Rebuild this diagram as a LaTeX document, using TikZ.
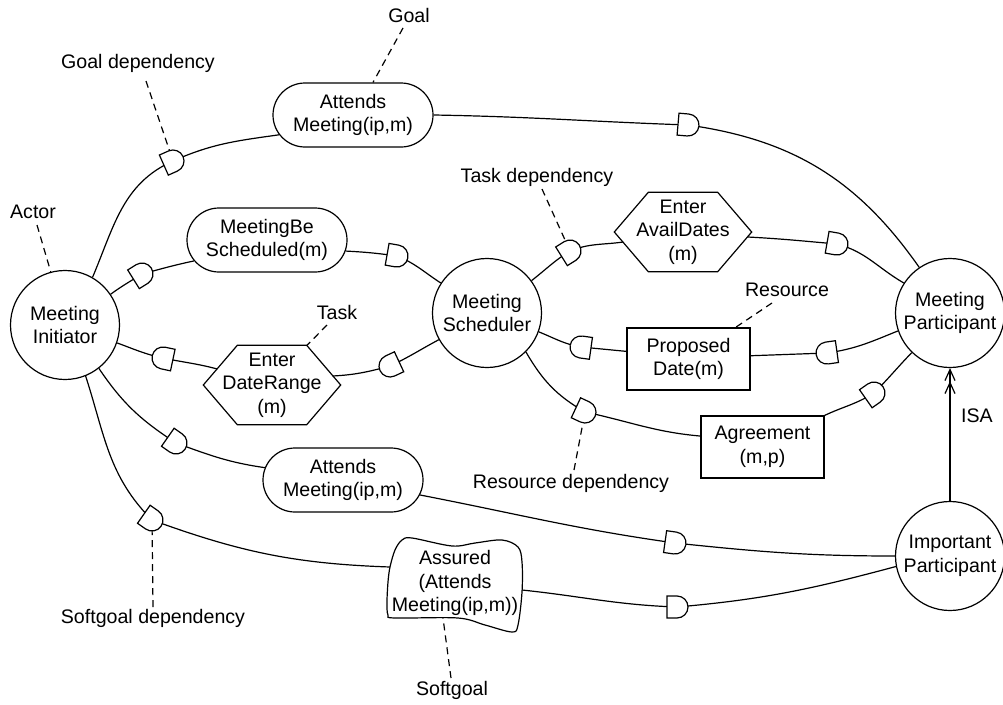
\documentclass[tikz,border=0pt]{standalone}
\usepackage{fontspec}
\setmainfont{Liberation Sans}
\usetikzlibrary{shapes.misc,arrows.meta}

% hexagonal outline for task nodes, built on the node's bounding rectangle
\newcommand\hexborder[1]{%
  \draw[link] (#1.west) -- ([xshift=34pt]#1.north west) -- ([xshift=-34pt]#1.north east)
    -- (#1.east) -- ([xshift=-34pt]#1.south east) -- ([xshift=34pt]#1.south west) -- cycle;}

\begin{document}
\begin{tikzpicture}[x=1pt,y=1pt,
  every node/.style={font=\fontsize{19.6}{23.5}\selectfont, align=center, inner sep=0pt},
  link/.style={line width=1.2pt},
  note/.style={line width=1.2pt, dash pattern=on 7pt off 5pt},
  actor/.style={circle, draw, line width=1.2pt, minimum size=109pt},
  goal/.style={rounded rectangle, draw, line width=1.2pt, minimum width=160pt, minimum height=64pt},
  taskbox/.style={rectangle, minimum width=137pt, minimum height=79pt},
  resource/.style={rectangle, draw, line width=1.2pt, minimum width=123pt, minimum height=62pt},
  dmark/.pic={\draw[line width=1.2pt, fill=white] (-10,-11) -- (0,-11)
      arc[start angle=-90, end angle=90, radius=11pt] -- (-10,11) -- cycle;},
]
\useasboundingbox (0,0) rectangle (1003,-704);

% actors
\node[actor] (mi) at (65,-325) {Meeting\\Initiator};
\node[actor] (ms) at (487,-313) {Meeting\\Scheduler};
\node[actor] (mp) at (950,-313) {Meeting\\Participant};
\node[actor] (ip) at (950,-556) {Important\\Participant};

% goals
\node[goal] (g1) at (353,-115) {Attends\\Meeting(ip,m)};
\node[goal] (g2) at (267,-240) {MeetingBe\\Scheduled(m)};
\node[goal] (g3) at (343,-480) {Attends\\Meeting(ip,m)};

% tasks
\node[taskbox] (dr) at (272,-385) {Enter\\DateRange\\(m)};
\node[taskbox] (ad) at (683,-232) {Enter\\AvailDates\\(m)};
\hexborder{dr}
\hexborder{ad}

% resources
\node[resource] (pd) at (688.5,-359) {Proposed\\Date(m)};
\node[resource] (ag) at (762.5,-447) {Agreement\\(m,p)};

% softgoal
\node (sg) at (455,-583) {Assured\\(Attends\\Meeting(ip,m))};
\draw[link, shift={(sg.center)}] plot[smooth cycle, tension=0.55] coordinates {
  (-65,16) (-60,33) (-53,43) (-43,45) (-3,37) (20,40) (47,43) (63,36) (67,21)
  (67,-9) (63,-42) (57,-49) (30,-42) (3,-35) (-60,-35) (-67,-32) (-68,-19) (-67,1)};
\coordinate (sgw) at ([shift={(-65,16)}]sg.center);
\coordinate (sge) at ([shift={(67,-7)}]sg.center);

% annotation labels
\node (lgoal) at (409,-15) {Goal};
\node (lgd) at (138,-63) {Goal dependency};
\node (lact) at (33,-212) {Actor};
\node (ltd) at (537,-177) {Task dependency};
\node (ltask) at (337,-312) {Task};
\node (lres) at (787,-290) {Resource};
\node (lisa) at (977,-416) {ISA};
\node (lrd) at (571,-483) {Resource dependency};
\node (lsd) at (153,-618) {Softgoal dependency};
\node (lsg) at (452,-690) {Softgoal};

% dependency markers positions
\coordinate (d1) at (173,-161);
\coordinate (d2) at (688,-125);
\coordinate (d3) at (142,-274);
\coordinate (d4) at (397,-256);
\coordinate (d5) at (390,-366);
\coordinate (d6) at (163,-358);
\coordinate (d7) at (570,-251);
\coordinate (d8) at (837,-244);
\coordinate (d9) at (827,-353);
\coordinate (d10) at (581,-347);
\coordinate (d11) at (585,-412);
\coordinate (d12) at (874,-393);
\coordinate (d13) at (176,-443);
\coordinate (d14) at (675,-543);
\coordinate (d15) at (152,-520);
\coordinate (d16) at (677,-607);

% annotation leaders
\draw[note] ([shift={(-6,-13)}]lgoal.center) -- ([xshift=20pt]g1.north);
\draw[note] ([shift={(8,-18)}]lgd.center) -- (d1);
\draw[note] ([shift={(4,-13)}]lact.center) -- (mi.105);
\draw[note] ([shift={(5,-12)}]ltd.center) -- (d7);
\draw[note] ([shift={(-10,-13)}]ltask.center) -- ([xshift=35pt]dr.north);
\draw[note] ([shift={(-15,-13)}]lres.center) -- ([xshift=47pt]pd.north);
\draw[note] ([shift={(3,13)}]lrd.center) -- (d11);
\draw[note] ([shift={(0,11)}]lsd.center) -- (d15);
\draw[note] ([shift={(-1,12)}]lsg.center) -- ([shift={(-12,-35)}]sg.center);

% dependency links
\draw[link] (mi.60) to[out=67,in=204] (d1) to[out=24,in=188] (g1.195);
\draw[link] (g1.east) to[out=-1,in=178] (d2) to[out=-8,in=125] (mp.124);
\draw[link] (mi.34) to[out=36,in=212] (d3) to[out=15,in=192] (g2.196);
\draw[link] (g2.-8) to[out=-3,in=172] (d4) to[out=-22,in=147] (ms.147);
\draw[link] (ms.209) to[out=208,in=25] (d5) to[out=195,in=3] ([shift={(-8,9)}]dr.east);
\draw[link] ([shift={(14,16)}]dr.west) to[out=165,in=-12] (d6) to[out=168,in=-20] (mi.-19);
\draw[link] (ms.36) to[out=38,in=212] (d7) to[out=22,in=188] ([shift={(9,-10)}]ad.west);
\draw[link] ([shift={(-4,-5)}]ad.east) to[out=-3,in=175] (d8) to[out=-15,in=150] (mp.147);
\draw[link] (mp.199) to[out=202,in=8] (d9) -- (pd.3);
\draw[link] (pd.173) -- (d10) to[out=170,in=-22] (ms.-20);
\draw[link] (ms.-45) to[out=-60,in=150] (d11) to[out=-12,in=175] (ag.170);
\draw[link] (ag.north east) to[out=25,in=212] (d12) to[out=45,in=226] (mp.226);
\draw[link] (mi.-52) to[out=-56,in=147] (d13) to[out=-20,in=172] (g3.171);
\draw[link] (g3.-11) to[out=-11,in=172] (d14) to[out=-6,in=180] (ip.180);
\draw[link] (mi.-68) to[out=-72,in=135] (d15) to[out=-20,in=178] (sgw);
\draw[link] (sge) to[out=-6,in=178] (d16) to[out=5,in=195] (ip.191);

% ISA link
\draw[link, -{Straight Barb[length=11pt,width=10pt] Straight Barb[length=11pt,width=10pt]}]
  (ip.north) -- (mp.south);

% dependency markers
\foreach \n/\a in {d1/24, d2/-5, d3/32, d4/-10, d5/205, d6/168, d7/32, d8/-10,
                   d9/188, d10/172, d11/-25, d12/35, d13/-35, d14/-8, d15/-35, d16/0}
  \pic[rotate=\a] at (\n) {dmark};

\end{tikzpicture}
\end{document}
